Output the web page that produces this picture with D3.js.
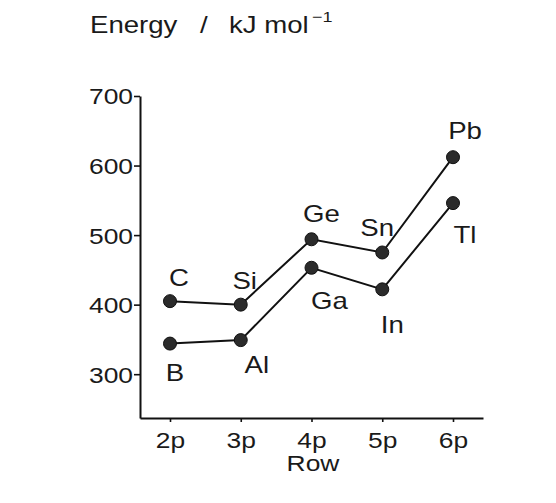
<!DOCTYPE html>
<html>
<head>
<meta charset="utf-8">
<script src="https://cdn.jsdelivr.net/npm/d3@7/dist/d3.min.js"></script>
<style>
  html, body { margin: 0; padding: 0; background: #fff; }
  svg { display: block; }
  text { font-family: "Liberation Sans", Arial, Helvetica, sans-serif; fill: #1a1a1a; }
</style>
</head>
<body>
<svg id="chart" width="556" height="503"></svg>
<script>
// ---- data ----
const categories = ["2p", "3p", "4p", "5p", "6p"];
const group14Elements = ["C", "Si", "Ge", "Sn", "Pb"];
const group14Values = [405, 400, 494, 475, 612];
const group13Elements = ["B", "Al", "Ga", "In", "Tl"];
const group13Values = [344, 349, 453, 422, 546];
const yTicks = [300, 400, 500, 600, 700];
const yDomain = [237, 700];
const yTitle = "Energy";
const yUnit = "kJ mol";
const xTitle = "Row";

// ---- layout (not data) ----
const labelOffsets14 = [[9, -23], [4, -24], [10, -25], [-5, -25], [12, -26]];
const labelOffsets13 = [[5, 29], [16, 25], [18, 33], [10, 36], [12, 32]];
const SX = 1.2; // horizontal stretch of the scanned lettering

const svg = d3.select("#chart");
const x = d3.scalePoint().domain(categories).range([140, 483]).padding(0.424);
const y = d3.scaleLinear().domain(yDomain).range([418, 96]);

function stretch(sel) {
  sel.each(function () {
    const t = d3.select(this);
    const tx = +t.attr("x") || 0, ty = +t.attr("y") || 0;
    t.attr("transform", `translate(${tx},${ty}) scale(${SX},1) translate(${-tx},${-ty})`);
  });
}

// y axis
const gy = svg.append("g").attr("transform", "translate(140,0)")
  .call(d3.axisLeft(y).tickValues(yTicks).tickSize(6).tickSizeOuter(0).tickPadding(2));
gy.select(".domain").attr("stroke", "#111").attr("stroke-width", 2);
gy.selectAll(".tick line").attr("stroke", "#111").attr("stroke-width", 1.6);
gy.selectAll(".tick text").attr("font-size", 22).attr("fill", "#1a1a1a")
  .style("font-family", "Liberation Sans, Arial, sans-serif")
  .attr("dy", "0.36em")
  .each(function () {
    const t = d3.select(this);
    const xx = -7;
    t.attr("x", xx);
    t.attr("transform", `translate(${xx},0) scale(${SX},1) translate(${-xx},0)`);
  });

// x axis
const gx = svg.append("g").attr("transform", "translate(0,418)")
  .call(d3.axisBottom(x).tickSize(4).tickSizeOuter(0).tickPadding(10));
gx.select(".domain").attr("stroke", "#111").attr("stroke-width", 2);
gx.selectAll(".tick line").attr("stroke", "#111").attr("stroke-width", 1.6);
gx.selectAll(".tick text").attr("font-size", 22).attr("fill", "#1a1a1a")
  .style("font-family", "Liberation Sans, Arial, sans-serif")
  .attr("transform", `scale(${SX},1)`);

// x title
svg.append("text").attr("x", 313).attr("y", 471).attr("text-anchor", "middle")
  .attr("font-size", 22).text(xTitle).call(stretch);

// y title
svg.append("text").attr("x", 90).attr("y", 33).attr("font-size", 23).text(yTitle).call(stretch);
svg.append("text").attr("x", 200).attr("y", 33).attr("font-size", 23).text("/").call(stretch);
svg.append("text").attr("x", 229).attr("y", 33).attr("font-size", 23).text(yUnit).call(stretch);
svg.append("text").attr("x", 312).attr("y", 22).attr("font-size", 15).text("\u22121").call(stretch);

// series
function drawSeries(values, names, offsets) {
  const pts = values.map((v, i) => [x(categories[i]), y(v)]);
  svg.append("path").attr("d", d3.line()(pts))
    .attr("fill", "none").attr("stroke", "#111").attr("stroke-width", 2);
  svg.selectAll(null).data(pts).enter().append("circle")
    .attr("cx", d => d[0]).attr("cy", d => d[1]).attr("r", 6.5)
    .attr("fill", "#2b2b2b").attr("stroke", "#111").attr("stroke-width", 1);
  svg.selectAll(null).data(pts).enter().append("text")
    .attr("x", (d, i) => d[0] + offsets[i][0])
    .attr("y", (d, i) => d[1] + offsets[i][1])
    .attr("text-anchor", "middle").attr("dominant-baseline", "central")
    .attr("font-size", 23)
    .text((d, i) => names[i])
    .call(stretch);
}
drawSeries(group14Values, group14Elements, labelOffsets14);
drawSeries(group13Values, group13Elements, labelOffsets13);
</script>
</body>
</html>
